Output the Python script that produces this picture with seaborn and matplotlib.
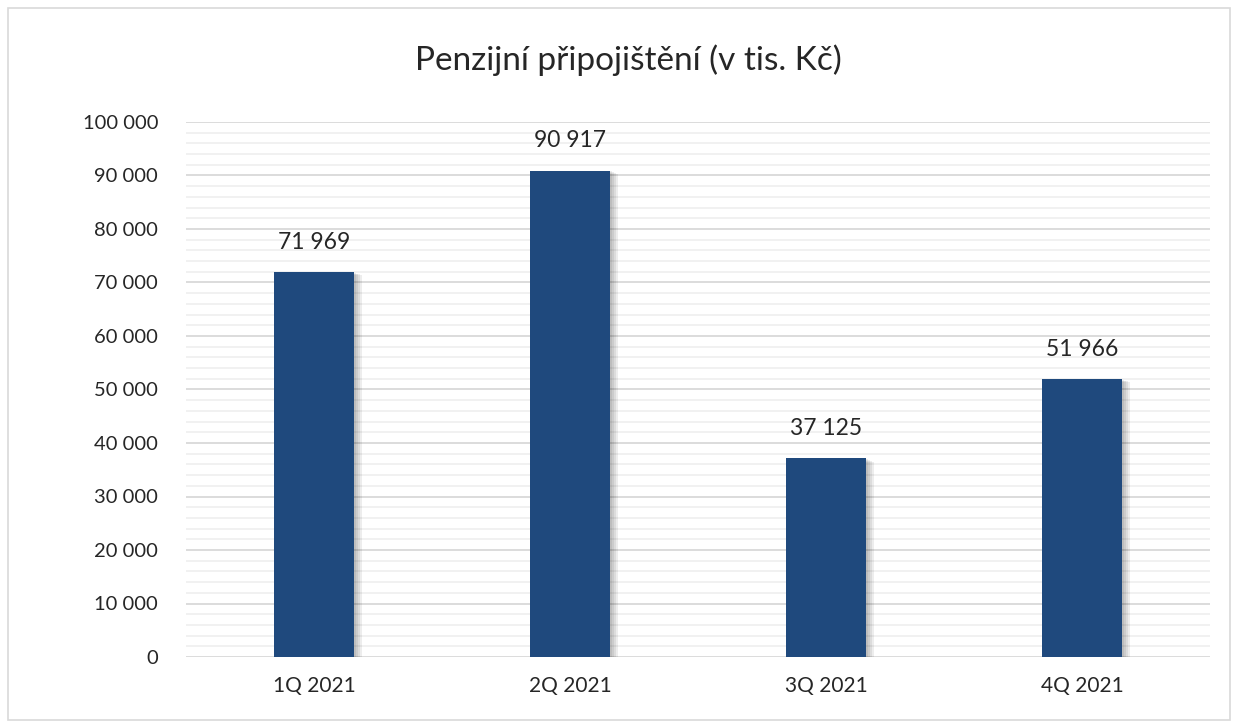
import matplotlib
matplotlib.use("Agg")
import matplotlib.pyplot as plt
import matplotlib.patheffects as pe
from matplotlib.ticker import FuncFormatter, MultipleLocator
import pandas as pd
import seaborn as sns

quarters = ["1Q 2021", "2Q 2021", "3Q 2021", "4Q 2021"]
values = [71969, 90917, 37125, 51966]
title = "Penzijní připojištění (v tis. Kč)"

df = pd.DataFrame({"quarter": quarters, "value": values})


def fmt_space(v, pos=None):
    return f"{int(round(v)):,}".replace(",", " ")


sns.set_theme(style="white")
plt.rcParams["font.family"] = ["Lato", "DejaVu Sans"]

fig = plt.figure(figsize=(12.35, 7.26), dpi=100)
ax = fig.add_axes([186 / 1235, 1 - 657 / 726, 1024 / 1235, 535 / 726])

sns.barplot(data=df, x="quarter", y="value", color="#1f497d", saturation=1,
            width=0.31, linewidth=0, ax=ax, zorder=3)

# soft shadow to the right, built from a few faint offset copies
shadow = [pe.SimplePatchShadow(offset=(d, -d * 0.4), shadow_rgbFace="#000000", alpha=0.07)
          for d in (1.5, 3, 4.5, 6)]
for bar in ax.patches:
    bar.set_path_effects(shadow + [pe.Normal()])

for bar, v in zip(ax.patches, values):
    ax.annotate(fmt_space(v), (bar.get_x() + bar.get_width() / 2, bar.get_height()),
                xytext=(0, 14), textcoords="offset points", ha="center", va="bottom",
                fontsize=16.5, color="#262626")

ax.set_ylim(0, 100000)
ax.set_xlim(-0.5, 3.5)
ax.yaxis.set_major_locator(MultipleLocator(10000))
ax.yaxis.set_minor_locator(MultipleLocator(2000))
ax.yaxis.set_major_formatter(FuncFormatter(fmt_space))
ax.grid(axis="y", which="major", color="#d9d9d9", linewidth=1.3, zorder=0)
ax.grid(axis="y", which="minor", color="#f0f0f0", linewidth=1.3, zorder=0)
ax.set_axisbelow(True)
for s in ax.spines.values():
    s.set_visible(False)
ax.tick_params(axis="y", which="both", length=0, labelsize=14.5, colors="#262626", pad=20)
ax.tick_params(axis="x", length=0, labelsize=15, colors="#262626", pad=14)
ax.set_xlabel("")
ax.set_ylabel("")

fig.text(628 / 1235, 1 - 60 / 726, title, ha="center", va="center", fontsize=24,
         color="#262626")

frame = plt.Rectangle((8 / 1235, 6 / 726), 1222 / 1235, 712 / 726, transform=fig.transFigure,
                      fill=False, edgecolor="#d9d9d9", linewidth=1.2)
fig.patches.append(frame)

fig.savefig("out.png", dpi=100)
